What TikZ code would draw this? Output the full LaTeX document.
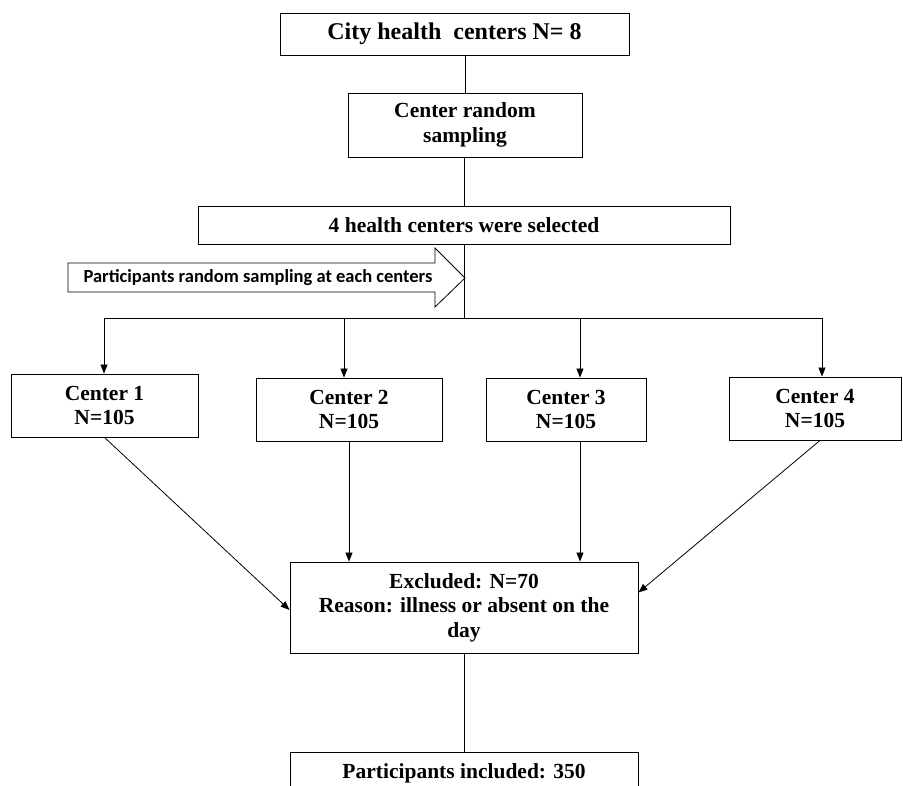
\documentclass[tikz,border=0pt]{standalone}
\usepackage{fontspec}
\setmainfont{Liberation Serif}
\newfontfamily\calfont{Carlito}
\usetikzlibrary{arrows.meta}
\begin{document}
\begin{tikzpicture}[x=1pt,y=-1pt,
  box/.style={draw,line width=0.9pt,inner sep=0pt,align=center,
    font=\bfseries\fontsize{21.5}{24.5}\selectfont},
  ln/.style={line width=0.8pt},
  arr/.style={ln,-{Triangle[length=9pt,width=7pt]}}]
\useasboundingbox (0,0) rectangle (903,786);
\clip (0,0) rectangle (903,786);
\fill[white] (0,0) rectangle (903,786);

\node[box,minimum width=349,minimum height=42,font=\bfseries\fontsize{24}{28}\selectfont] (top) at (454.5,34) {City health\ \ centers N= 8};
\node[box,minimum width=234,minimum height=64] (b2) at (465,125) {Center random\\sampling};
\node[box,minimum width=532,minimum height=38] (b3) at (464,225) {4 health centers were selected};

\draw[line width=0.8pt] (68,263) -- (435,263) -- (435,248) -- (465,278) -- (435,307) -- (435,292) -- (68,292) -- cycle;
\node[font=\calfont\bfseries\fontsize{18.5}{20}\selectfont,inner sep=0pt] (arrtxt) at (258,278) {Participants random sampling at each centers};

\coordinate (br) at (464,318);
\coordinate (d1) at (104,318);
\coordinate (d2) at (344,318);
\coordinate (d3) at (580,318);
\coordinate (d4) at (822,318);

\node[box,minimum width=187,minimum height=63] (c1) at (104.5,405.5) {Center 1\\N=105};
\node[box,minimum width=186,minimum height=63] (c2) at (349,409.5) {Center 2\\N=105};
\node[box,minimum width=160,minimum height=63] (c3) at (566,409.5) {Center 3\\N=105};
\node[box,minimum width=172,minimum height=63] (c4) at (815,408.5) {Center 4\\N=105};

\node[box,minimum width=348,minimum height=91] (exc) at (464,607.5) {Excluded: N=70\\Reason: illness or absent on the\\day};
\node[box,minimum width=348,minimum height=42] (inc) at (464,773) {Participants included: 350};

\draw[ln] (b2.north |- top.south) -- (b2.north);
\draw[ln] ([xshift=-0.5pt]b2.south) -- ([xshift=-0.5pt]b2.south |- b3.north);
\draw[ln] (b3.south) -- (br);
\draw[ln] (d1) -- (d4);
\draw[arr] (d1) -- (d1 |- c1.north);
\draw[arr] (d2) -- (d2 |- c2.north);
\draw[arr] (d3) -- (d3 |- c3.north);
\draw[arr] (d4) -- (d4 |- c4.north);

\draw[arr] (c1.south) -- ([yshift=-2.5pt]exc.west);
\draw[arr] (c2.south) -- (c2.south |- exc.north);
\draw[arr] (d3 |- c3.south) -- (d3 |- exc.north);
\draw[arr] ([xshift=5pt]c4.south) -- ([yshift=15pt]exc.east);
\draw[ln] (exc.south) -- (inc.north);
\end{tikzpicture}
\end{document}
